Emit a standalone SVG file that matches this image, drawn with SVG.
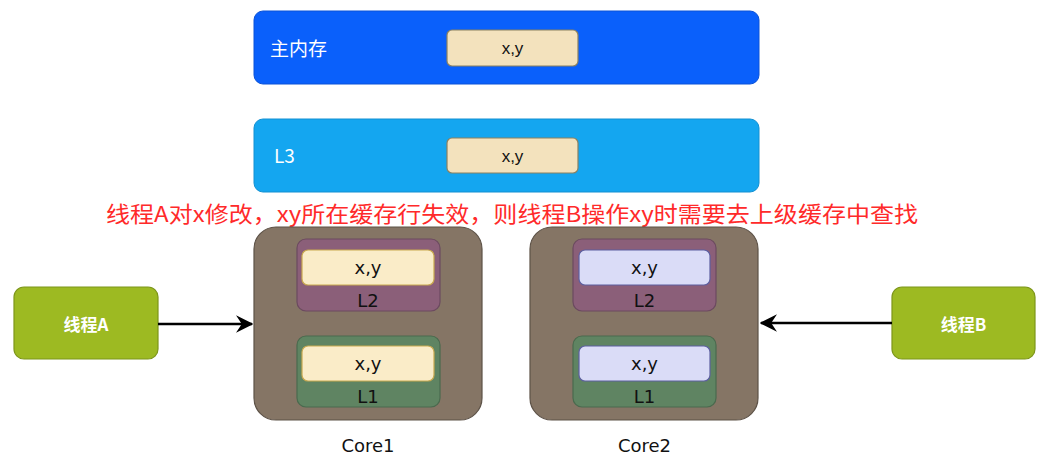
<svg xmlns="http://www.w3.org/2000/svg" width="1042" height="462" viewBox="0 0 1042 462">
<style>
.lbl{font-family:"Noto Sans CJK SC","Noto Sans",sans-serif;fill:#fff}
.xy{font-family:"Liberation Sans",Arial,sans-serif;font-size:17px;fill:#111;text-anchor:middle}
.cx{font-family:"DejaVu Sans","Noto Sans",sans-serif;font-size:18px;fill:#111;text-anchor:middle}
.cell{fill:#f3e2bd;stroke:#8a8060;stroke-width:1.2}
.cellA{fill:#faecc8;stroke:#c9a94f;stroke-width:1.2}
.cellB{fill:#dadcf7;stroke:#5d5fa0;stroke-width:1.2}
.core{fill:#857565;stroke:#5d5247;stroke-width:1.2}
.l2{fill:#8b5f79;stroke:#6c4a60;stroke-width:1.2}
.l1{fill:#5f8462;stroke:#4a6a4e;stroke-width:1.2}
.thr{fill:#9dba22;stroke:#7d961a;stroke-width:1.2}
.arr{stroke:#000;stroke-width:2.5;fill:none}
</style>
<defs>
<marker id="ah" viewBox="0 0 12 12" refX="11" refY="6" markerWidth="7" markerHeight="7" orient="auto" markerUnits="strokeWidth">
<path d="M0,0 L12,6 L0,12 L4,6 Z" fill="#000"/>
</marker>
</defs>
<rect width="1042" height="462" fill="#fff"/>
<g id="main-memory">
<rect x="254" y="11" width="505" height="73" rx="9" fill="#0a60fb" stroke="#0a52d8"/>
<text x="270" y="56" class="lbl" font-size="19">主内存</text>
<rect x="447" y="30" width="131" height="36" rx="5" class="cell"/>
<text x="512.5" y="54" class="xy">x,y</text>
</g>
<g id="l3">
<rect x="254" y="119" width="505" height="73" rx="9" fill="#14a6f0" stroke="#1290d2"/>
<text x="274" y="163" class="lbl" font-size="19">L3</text>
<rect x="447" y="138" width="131" height="35" rx="5" class="cell"/>
<text x="512.5" y="162" class="xy">x,y</text>
</g>
<g id="note">
<text x="106" y="222" font-family="Noto Sans CJK SC,sans-serif" font-size="22" fill="#ff2a2a" textLength="812" lengthAdjust="spacingAndGlyphs">线程A对x修改，xy所在缓存行失效，则线程B操作xy时需要去上级缓存中查找</text>
</g>
<g id="core1">
<rect x="254" y="227" width="228" height="193" rx="22" class="core"/>
<rect x="297" y="239" width="143" height="72" rx="9" class="l2"/>
<rect x="302" y="250" width="132" height="35" rx="6" class="cellA"/>
<text x="368" y="274" class="cx">x,y</text>
<text x="368" y="307" class="cx">L2</text>
<rect x="297" y="336" width="143" height="71" rx="9" class="l1"/>
<rect x="302" y="346" width="132" height="35" rx="6" class="cellA"/>
<text x="368" y="370" class="cx">x,y</text>
<text x="368" y="403" class="cx">L1</text>
<text x="368" y="452" class="cx">Core1</text>
</g>
<g id="core2">
<rect x="530" y="227" width="228" height="193" rx="22" class="core"/>
<rect x="573" y="239" width="143" height="72" rx="9" class="l2"/>
<rect x="579" y="250" width="131" height="35" rx="6" class="cellB"/>
<text x="644.5" y="274" class="cx">x,y</text>
<text x="644.5" y="307" class="cx">L2</text>
<rect x="573" y="336" width="143" height="71" rx="9" class="l1"/>
<rect x="579" y="346" width="131" height="35" rx="6" class="cellB"/>
<text x="644.5" y="370" class="cx">x,y</text>
<text x="644.5" y="403" class="cx">L1</text>
<text x="644.5" y="452" class="cx">Core2</text>
</g>
<g id="threadA">
<rect x="14" y="287" width="144" height="72" rx="10" class="thr"/>
<text x="86" y="331" class="lbl" font-size="17" text-anchor="middle" font-weight="bold">线程A</text>
</g>
<g id="threadB">
<rect x="892" y="287" width="143" height="72" rx="10" class="thr"/>
<text x="963.5" y="331" class="lbl" font-size="17" text-anchor="middle" font-weight="bold">线程B</text>
</g>
<g id="connectors">
<line x1="158" y1="324" x2="252" y2="324" class="arr" marker-end="url(#ah)"/>
<line x1="892" y1="323" x2="761" y2="323" class="arr" marker-end="url(#ah)"/>
</g>
</svg>
